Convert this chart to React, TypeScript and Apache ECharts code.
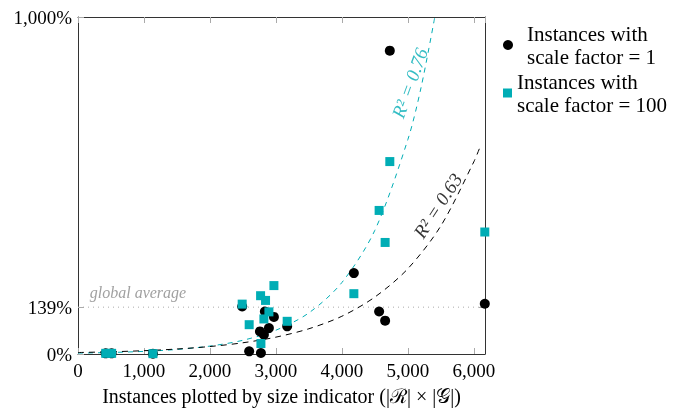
import React, { useEffect, useRef } from "react";
import * as echarts from "echarts";

// Instances with scale factor = 1
const blackX = [420, 510, 1136, 2489, 2595, 2758, 2773, 2818, 2833, 2894, 2970, 3171, 4182, 4565, 4656, 4727, 6167];
const blackY = [2, 2, 1, 141, 8, 67, 3, 57, 126, 77, 110, 82, 240, 126, 99, 900, 149];

// Instances with scale factor = 100
const cyanX = [420, 510, 1136, 2489, 2595, 2768, 2773, 2818, 2843, 2894, 2970, 3171, 4182, 4565, 4656, 4727, 6167];
const cyanY = [2, 2, 1, 148, 87, 173, 31, 104, 159, 125, 203, 97, 179, 426, 331, 571, 362];

// trend curves
const cyanTrendX = [0, 500, 1000, 1500, 2000, 2500, 3000, 3500, 4000, 4500, 5000, 5200, 5409];
const cyanTrendY = [2.6, 4.5, 7.8, 13.5, 23.5, 40.7, 70.6, 122, 212, 367, 636, 790, 1000];
const blackTrendX = [0, 500, 1000, 1500, 2000, 2500, 3000, 3500, 4000, 4500, 5000, 5500, 6000, 6100];
const blackTrendY = [4.4, 6.6, 9.8, 14.8, 22.2, 33.3, 50, 74.9, 112, 169, 253, 380, 570, 617];

const globalAverage = 139;
const yTickValues = [0, 139, 1000];
const xMin = 0;
const xMax = 6170;
const xInterval = 1000;

const seriesNames = ["Instances with scale factor = 1", "Instances with scale factor = 100"];
const legendLines: Record<string, string> = {
  "Instances with scale factor = 1": "Instances with\nscale factor = 1",
  "Instances with scale factor = 100": "Instances with\nscale factor = 100",
};

const CYAN = "#00adb5";
const FONT = "Liberation Serif";

const zip = (xs: number[], ys: number[]) => xs.map((x, i) => [x, ys[i]]);

export default function App() {
  const ref = useRef<HTMLDivElement>(null);
  useEffect(() => {
    if (!ref.current) return;
    const chart = echarts.init(ref.current, undefined, { renderer: "svg" });
    const fmt = (v: number) => v.toLocaleString("en-US");
    chart.setOption({
      animation: false,
      grid: { left: 78, top: 17, right: 193, bottom: 60, containLabel: false },
      legend: [
        {
          data: [{ name: seriesNames[0], icon: "circle" }],
          left: 503,
          top: 22,
          padding: 0,
          itemWidth: 10,
          itemHeight: 10,
          formatter: (n: string) => legendLines[n],
          textStyle: { fontFamily: FONT, fontSize: 21, lineHeight: 23, color: "#000", padding: [0, 0, 0, 9] },
          selectedMode: false,
        },
        {
          data: [{ name: seriesNames[1], icon: "rect" }],
          left: 503,
          top: 70,
          padding: 0,
          itemWidth: 9,
          itemHeight: 9,
          formatter: (n: string) => legendLines[n],
          textStyle: { fontFamily: FONT, fontSize: 21, lineHeight: 23, color: "#000" },
          selectedMode: false,
        },
      ],
      xAxis: [
        {
          type: "value",
          min: xMin,
          max: xMax,
          interval: xInterval,
          position: "bottom",
          splitLine: { show: false },
          axisLine: { onZero: false, lineStyle: { color: "#333", width: 1 } },
          axisTick: { inside: true, length: 6, lineStyle: { color: "#aaa" } },
          axisLabel: {
            formatter: (v: number) => fmt(v),
            showMaxLabel: false,
            fontFamily: FONT,
            fontSize: 19,
            color: "#000",
            margin: 7,
          },
          name: "Instances plotted by size indicator (|ℛ| × |𝒢|)",
          nameLocation: "middle",
          nameGap: 32,
          nameTextStyle: { fontFamily: FONT, fontSize: 20, color: "#000" },
        },
        {
          type: "value",
          min: xMin,
          max: xMax,
          interval: xInterval,
          position: "top",
          splitLine: { show: false },
          axisLine: { onZero: false, lineStyle: { color: "#333", width: 1 } },
          axisTick: { inside: true, length: 6, lineStyle: { color: "#aaa" } },
          axisLabel: { show: false },
        },
      ],
      yAxis: [
        {
          type: "value",
          min: 0,
          max: 1000,
          position: "left",
          splitLine: { show: false },
          axisLine: { show: true, onZero: false, lineStyle: { color: "#333", width: 1 } },
          axisTick: { show: true, inside: true, length: 6, customValues: yTickValues, lineStyle: { color: "#aaa" } },
          axisLabel: {
            customValues: yTickValues,
            formatter: (v: number) => fmt(v) + "%",
            fontFamily: FONT,
            fontSize: 19,
            color: "#000",
            margin: 6,
          },
        },
        {
          type: "value",
          min: 0,
          max: 1000,
          position: "right",
          splitLine: { show: false },
          axisLine: { show: true, onZero: false, lineStyle: { color: "#333", width: 1 } },
          axisTick: { show: true, inside: true, length: 6, customValues: [globalAverage], lineStyle: { color: "#aaa" } },
          axisLabel: { show: false },
        },
      ],
      series: [
        {
          name: "global average",
          type: "line",
          data: [[xMin, globalAverage], [xMax, globalAverage]],
          showSymbol: false,
          silent: true,
          lineStyle: { color: "#aaa", width: 1, type: [1, 4] },
          z: 1,
        },
        {
          name: "trend 100",
          type: "line",
          data: zip(cyanTrendX, cyanTrendY),
          smooth: 0.3,
          showSymbol: false,
          silent: true,
          lineStyle: { color: CYAN, width: 1, type: [5, 5] },
          z: 2,
        },
        {
          name: "trend 1",
          type: "line",
          data: zip(blackTrendX, blackTrendY),
          smooth: 0.3,
          showSymbol: false,
          silent: true,
          lineStyle: { color: "#000", width: 1, type: [6, 5] },
          z: 2,
        },
        {
          name: seriesNames[0],
          type: "scatter",
          symbol: "circle",
          symbolSize: 10,
          data: zip(blackX, blackY),
          itemStyle: { color: "#000", opacity: 1 },
          clip: false,
          z: 3,
        },
        {
          name: seriesNames[1],
          type: "scatter",
          symbol: "rect",
          symbolSize: 9,
          data: zip(cyanX, cyanY),
          itemStyle: { color: CYAN, opacity: 1 },
          clip: false,
          z: 4,
        },
        {
          name: "annotations",
          type: "scatter",
          symbolSize: 0,
          silent: true,
          z: 5,
          data: [
            {
              value: [5030, 804],
              label: { show: true, position: "inside", formatter: "R² = 0.76", rotate: 70, color: CYAN, fontStyle: "italic", fontFamily: FONT, fontSize: 19 },
            },
            {
              value: [5455, 440],
              label: { show: true, position: "inside", formatter: "R² = 0.63", rotate: 57, color: "#000", fontStyle: "italic", fontFamily: FONT, fontSize: 19 },
            },
            {
              value: [909, 183],
              label: { show: true, position: "inside", formatter: "global average", rotate: 0, color: "#888", fontStyle: "italic", fontFamily: FONT, fontSize: 16 },
            },
          ],
        },
      ],
    });
    return () => chart.dispose();
  }, []);
  return <div ref={ref} style={{ position: "fixed", left: 0, top: 0, width: 678, height: 414 }} />;
}
